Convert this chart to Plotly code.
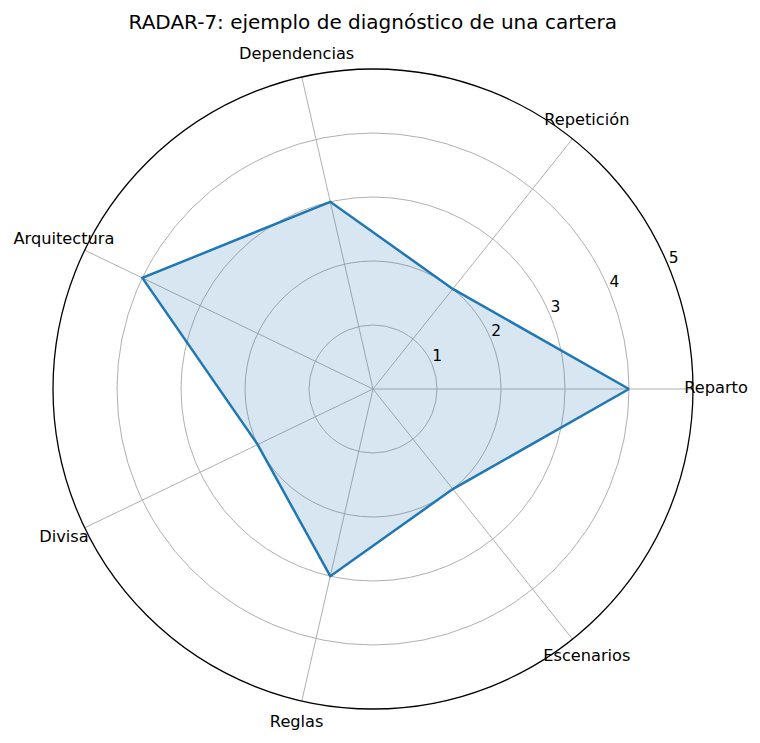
import plotly.graph_objects as go

categories = ["Reparto", "Repetición", "Dependencias", "Arquitectura", "Divisa", "Reglas", "Escenarios"]
values = [4, 2, 3, 4, 2, 3, 2]
radial_ticks = [1, 2, 3, 4, 5]
radial_ticktext = ["1", "2", "3", "4", "5"]
label_r = 5.36        # radial position of the category labels (just outside the outer circle)
radial_label_angle = 22.5

n = len(categories)
angles = [i * 360.0 / n for i in range(n)]

# main polar: centre (365, 381) in plot px, half-size 320
cx, cy, h1 = 365, 381, 320
h2 = 349
W, H = 760, 743
range2 = 5 * h2 / h1

fig = go.Figure()
fig.add_trace(go.Scatterpolar(
    r=values + values[:1],
    theta=angles + angles[:1],
    mode="lines",
    fill="toself",
    fillcolor="rgba(31,119,180,0.18)",
    line=dict(color="#1f77b4", width=2.5),
    showlegend=False,
    hoverinfo="skip",
))
# radial tick labels (matplotlib-style: at 22.5 deg, offset up-right)
fig.add_trace(go.Scatterpolar(
    r=radial_ticks,
    theta=[radial_label_angle] * len(radial_ticks),
    mode="text",
    text=radial_ticktext,
    textposition="top right",
    textfont=dict(size=15.5, family="DejaVu Sans", color="black"),
    cliponaxis=False,
    showlegend=False,
    hoverinfo="skip",
    subplot="polar2",
))
# category labels
fig.add_trace(go.Scatterpolar(
    r=[label_r] * n,
    theta=angles,
    mode="text",
    text=categories,
    textposition="middle center",
    textfont=dict(size=16.2, family="DejaVu Sans", color="black"),
    cliponaxis=False,
    showlegend=False,
    hoverinfo="skip",
    subplot="polar2",
))

fig.update_layout(
    width=W, height=H,
    margin=dict(l=0, r=0, t=0, b=0),
    paper_bgcolor="white",
    font=dict(family="DejaVu Sans", size=15, color="black"),
    title=dict(text="RADAR-7: ejemplo de diagnóstico de una cartera",
               x=0.480, xanchor="center", y=0.981, yanchor="middle",
               font=dict(size=20, family="DejaVu Sans", color="black")),
    polar=dict(
        domain=dict(x=[(cx - h1) / W, (cx + h1) / W], y=[(H - cy - h1) / H, (H - cy + h1) / H]),
        bgcolor="white",
        angularaxis=dict(
            rotation=0, direction="counterclockwise",
            tickmode="array", tickvals=angles, ticktext=categories,
            showticklabels=False,
            showline=True, linecolor="black", linewidth=1.3,
            showgrid=True, gridcolor="#b0b0b0", gridwidth=1,
            ticks="",
        ),
        radialaxis=dict(
            range=[0, 5], angle=radial_label_angle,
            tickmode="array", tickvals=radial_ticks, ticktext=radial_ticktext,
            showticklabels=False,
            showline=False, ticks="",
            showgrid=True, gridcolor="#b0b0b0", gridwidth=1,
        ),
    ),
    polar2=dict(
        domain=dict(x=[(cx - h2) / W, (cx + h2) / W], y=[(H - cy - h2) / H, (H - cy + h2) / H]),
        bgcolor="rgba(0,0,0,0)",
        angularaxis=dict(rotation=0, direction="counterclockwise", visible=False,
                         showgrid=False, showline=False, showticklabels=False, ticks=""),
        radialaxis=dict(range=[0, range2], visible=False, showgrid=False,
                        showline=False, showticklabels=False, ticks=""),
    ),
)

fig.write_html("out.html")
